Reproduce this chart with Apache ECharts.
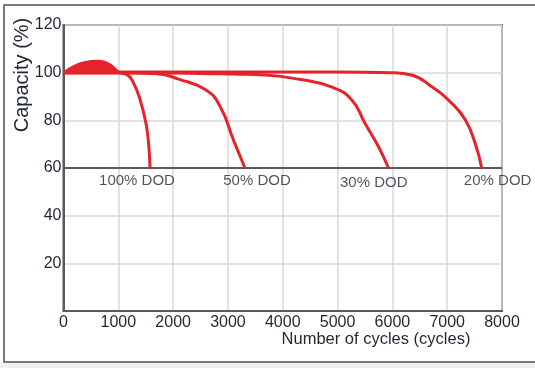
<!DOCTYPE html>
<html>
<head>
<meta charset="utf-8">
<script src="https://cdn.jsdelivr.net/npm/echarts@6/dist/echarts.min.js"></script>
<style>
html,body{margin:0;padding:0;background:#fff;}
#chart{width:535px;height:368px;}
</style>
</head>
<body>
<div id="chart"></div>
<script>
// ---- data ----
const bumpCurve = [[0,100],[100,101.8],[250,103.6],[400,104.6],[600,105.1],[750,104.7],[880,103.2],[980,101],[1050,100]];
const dod100 = [[0,100],[1000,100],[1150,99.3],[1260,96.5],[1400,88.5],[1510,78],[1560,68],[1578,60]];
const dod50  = [[0,100],[1000,100],[1700,99.5],[2100,97.3],[2600,92.7],[2860,85.7],[3100,71.8],[3310,60]];
const dod30  = [[0,100],[1000,100],[2500,99.7],[3100,99.4],[3680,99],[4300,97.2],[4900,93.9],[5260,88.5],[5500,78.8],[5745,69],[5930,60]];
const dod20  = [[0,100],[1000,100.3],[3000,100.3],[5000,100.3],[5990,100],[6350,99],[6720,94.1],[7080,87.2],[7330,80.2],[7510,70.4],[7630,60]];
const dodLabels = [
  {name:'100% DOD', value:[1341,54.6]},
  {name:'50% DOD',  value:[3530,54.6]},
  {name:'30% DOD',  value:[5660,53.8]},
  {name:'20% DOD',  value:[7920,54.6]}
];
const xMin = 0, xMax = 8000, xStep = 1000;
const yMin = 0, yMax = 120, yStep = 20;
const xTitle = 'Number of cycles (cycles)';
const yTitle = 'Capacity (%)';

const RED = '#e5232b';
const TXT = '#1f2733';
const FONT = '"Liberation Sans", Arial, sans-serif';

const chart = echarts.init(document.getElementById('chart'));
function curve(data){
  return {type:'line', data:data, smooth:0.5, showSymbol:false, symbol:'none',
    lineStyle:{color:RED, width:3}, z:5, silent:true};
}
chart.setOption({
  animation:false,
  backgroundColor:'#fff',
  textStyle:{fontFamily:FONT},
  graphic:[
    {type:'rect', z:-10, shape:{x:4,y:5,width:560,height:357}, style:{fill:'#fff', stroke:'#7a7a7a', lineWidth:2}},
    {type:'rect', z:-10, shape:{x:0,y:363,width:535,height:6}, style:{fill:'#efefef'}},
    {type:'text', x:22, y:75, rotation:Math.PI/2, style:{text:yTitle, fill:TXT, font:'20px '+FONT, textAlign:'center', textVerticalAlign:'middle'}},
    {type:'text', x:376, y:339, style:{text:xTitle, fill:TXT, font:'16.5px '+FONT, textAlign:'center', textVerticalAlign:'middle'}}
  ],
  grid:{left:63.5, top:25, right:33, bottom:57, show:true, borderColor:'#5a5a5a', borderWidth:2, backgroundColor:'transparent'},
  xAxis:{type:'value', min:xMin, max:xMax, interval:xStep,
    axisLine:{show:true, lineStyle:{color:'#5a5a5a', width:2}},
    axisTick:{show:false},
    splitLine:{show:true, lineStyle:{color:'#d9d9d9', width:1.5}},
    axisLabel:{color:TXT, fontSize:16, margin:4, fontFamily:FONT, formatter:function(v){return String(v);}}},
  yAxis:{type:'value', min:yMin, max:yMax, interval:yStep,
    axisLine:{show:true, lineStyle:{color:'#5a5a5a', width:2}},
    axisTick:{show:false},
    splitLine:{show:true, lineStyle:{color:'#d9d9d9', width:1.5}},
    axisLabel:{color:TXT, fontSize:16, margin:2, fontFamily:FONT, formatter:function(v){return v===0?'':String(v);}}},
  series:[
    {type:'line', data:bumpCurve, smooth:0.4, showSymbol:false, symbol:'none',
      lineStyle:{color:RED, width:1.5}, areaStyle:{color:RED, opacity:1, origin:100}, z:4, silent:true,
      markLine:{silent:true, symbol:'none', label:{show:false}, lineStyle:{color:'#5a5a5a', width:2, type:'solid'}, data:[{yAxis:60}]}},
    curve(dod100), curve(dod50), curve(dod30), curve(dod20),
    {type:'scatter', data:dodLabels, symbolSize:0, silent:true, z:6,
      label:{show:true, position:'inside', formatter:'{b}', color:TXT, fontSize:15, fontFamily:FONT}}
  ]
});
</script>
</body>
</html>
